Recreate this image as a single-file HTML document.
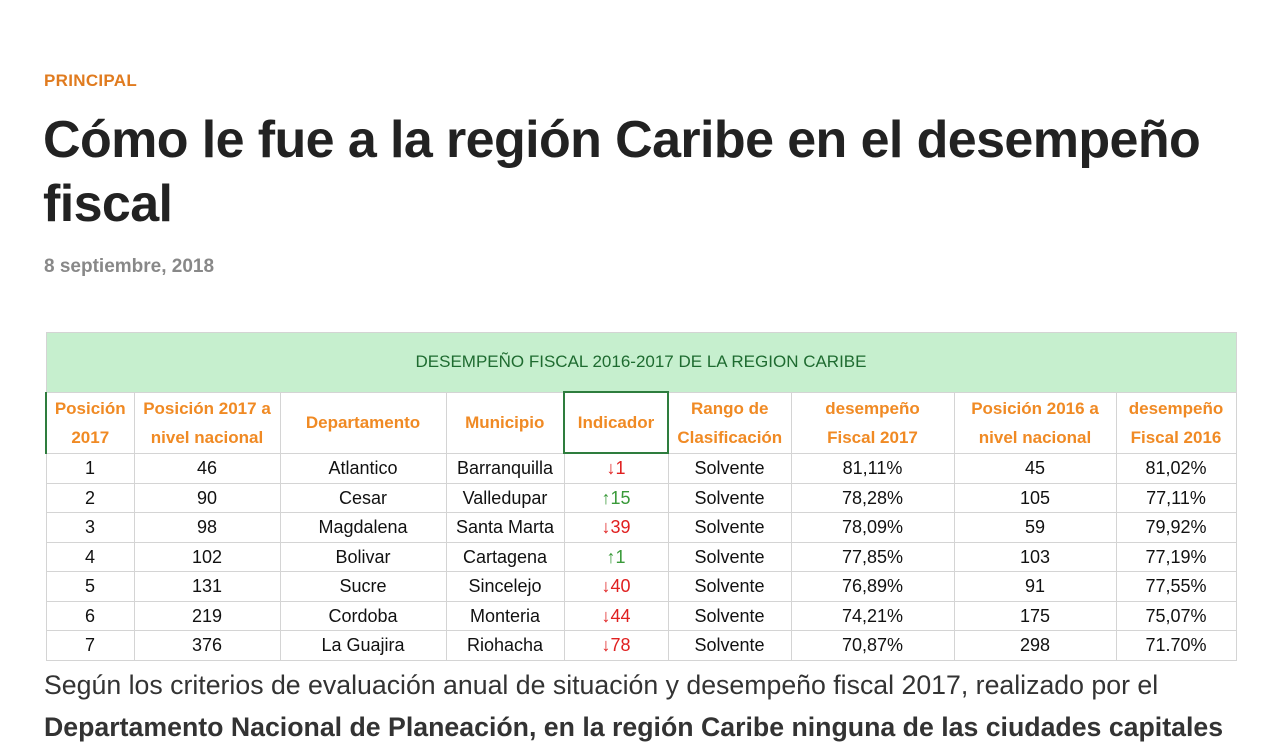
<!DOCTYPE html>
<html><head><meta charset="utf-8"><style>
body{margin:0;width:1280px;height:720px;overflow:hidden;background:#fff;font-family:"Liberation Sans",sans-serif;position:relative}
.a{position:absolute}
#cat{left:44px;top:71px;font-size:17px;font-weight:bold;color:#e07b1f;letter-spacing:0.3px}
#t{left:43px;top:108px;font-size:52px;font-weight:bold;color:#222;line-height:64px;letter-spacing:-0.6px;width:1220px}
#d{left:44px;top:256px;font-size:19px;font-weight:bold;color:#888}
table{position:absolute;left:45px;top:332px;border-collapse:collapse;font-family:"Liberation Sans Narrow","Liberation Sans",sans-serif;font-size:18px;color:#111}
td{border:1px solid #d4d4d4;text-align:center;padding:0;height:28.5px;line-height:20px}
.tt td{background:#c6efce;color:#1e6b30;height:58px;font-size:17px}
.h td{color:#f08a24;font-weight:bold;height:59px;line-height:29px;font-size:17px}
.dn{color:#e02020}.up{color:#3a9a3a}
#p{left:44px;top:670px;font-size:26.7px;color:#333;white-space:nowrap}
#p2{left:44px;top:712px;font-size:26.7px;color:#333;font-weight:bold;white-space:nowrap}
</style></head><body>
<div class="a" id="cat">PRINCIPAL</div>
<div class="a" id="t">Cómo le fue a la región Caribe en el desempeño fiscal</div>
<div class="a" id="d">8 septiembre, 2018</div>
<table>
<colgroup><col style="width:88px"><col style="width:146px"><col style="width:166px"><col style="width:118px"><col style="width:104px"><col style="width:123px"><col style="width:163px"><col style="width:162px"><col style="width:120px"></colgroup>
<tr class="tt"><td colspan="9">DESEMPEÑO FISCAL 2016-2017 DE LA REGION CARIBE</td></tr>
<tr class="h"><td style="border-left:2px solid #2e7d3e">Posición<br>2017</td><td>Posición 2017 a<br>nivel nacional</td><td>Departamento</td><td>Municipio</td><td style="border:2px solid #2e7d3e">Indicador</td><td>Rango de<br>Clasificación</td><td>desempeño<br>Fiscal 2017</td><td>Posición 2016 a<br>nivel nacional</td><td>desempeño<br>Fiscal 2016</td></tr>
<tr><td>1</td><td>46</td><td>Atlantico</td><td>Barranquilla</td><td class="dn">↓1</td><td>Solvente</td><td>81,11%</td><td>45</td><td>81,02%</td></tr>
<tr><td>2</td><td>90</td><td>Cesar</td><td>Valledupar</td><td class="up">↑15</td><td>Solvente</td><td>78,28%</td><td>105</td><td>77,11%</td></tr>
<tr><td>3</td><td>98</td><td>Magdalena</td><td>Santa Marta</td><td class="dn">↓39</td><td>Solvente</td><td>78,09%</td><td>59</td><td>79,92%</td></tr>
<tr><td>4</td><td>102</td><td>Bolivar</td><td>Cartagena</td><td class="up">↑1</td><td>Solvente</td><td>77,85%</td><td>103</td><td>77,19%</td></tr>
<tr><td>5</td><td>131</td><td>Sucre</td><td>Sincelejo</td><td class="dn">↓40</td><td>Solvente</td><td>76,89%</td><td>91</td><td>77,55%</td></tr>
<tr><td>6</td><td>219</td><td>Cordoba</td><td>Monteria</td><td class="dn">↓44</td><td>Solvente</td><td>74,21%</td><td>175</td><td>75,07%</td></tr>
<tr><td>7</td><td>376</td><td>La Guajira</td><td>Riohacha</td><td class="dn">↓78</td><td>Solvente</td><td>70,87%</td><td>298</td><td>71.70%</td></tr>
</table>
<div class="a" id="p">Según los criterios de evaluación anual de situación y desempeño fiscal 2017, realizado por el</div>
<div class="a" id="p2">Departamento Nacional de Planeación, en la región Caribe ninguna de las ciudades capitales</div>
</body></html>
